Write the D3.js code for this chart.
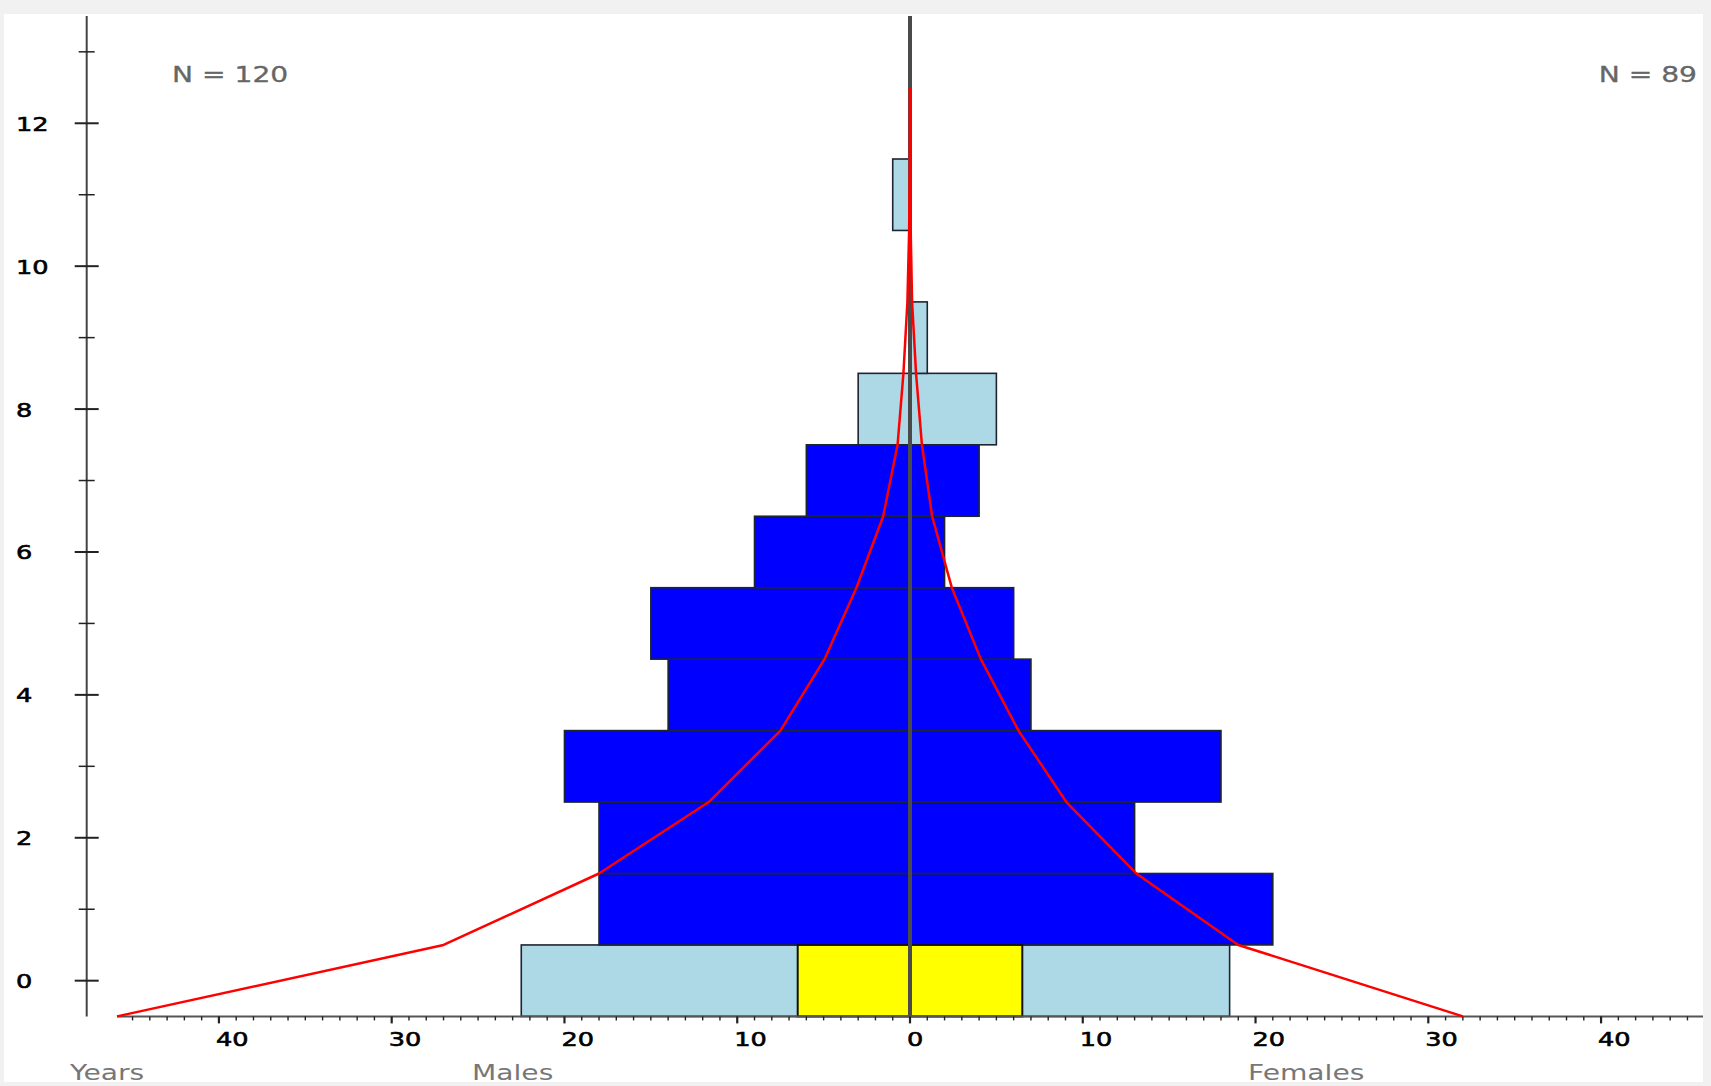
<!DOCTYPE html>
<html>
<head>
<meta charset="utf-8">
<script src="https://cdn.jsdelivr.net/npm/d3@7"></script>
<style>
  html, body { margin: 0; padding: 0; background: #f1f1f1; }
  svg { display: block; }
</style>
</head>
<body>
<svg id="chart" width="1711" height="1086"></svg>
<script>
// ---- data ----
const ages = [0, 1, 2, 3, 4, 5, 6, 7, 8, 9, 10, 11];
const males = [22.5, 18, 18, 20, 14, 15, 9, 6, 3, 0, 0, 1];
const females = [18.5, 21, 13, 18, 7, 6, 2, 4, 5, 1, 0, 0];
const malesYellow = [6.5, 0, 0, 0, 0, 0, 0, 0, 0, 0, 0, 0];
const femalesYellow = [6.5, 0, 0, 0, 0, 0, 0, 0, 0, 0, 0, 0];
const barClass = ["light", "dark", "dark", "dark", "dark", "dark", "dark", "dark", "light", "light", "light", "light"];
const lineYears = [-0.5, 0.5, 1.5, 2.5, 3.5, 4.5, 5.5, 6.5, 7.5, 8.5, 9.5, 10.5, 11.5, 12.5];
const maleLine = [45.9, 27.0, 18.0, 11.65, 7.5, 4.95, 3.1, 1.55, 0.72, 0.38, 0.15, 0.05, 0.01, 0];
const femaleLine = [32.0, 19.0, 13.1, 9.05, 6.28, 4.1, 2.42, 1.28, 0.69, 0.35, 0.12, 0.04, 0.01, 0];
const yTickLabels = [0, 2, 4, 6, 8, 10, 12];
const xTickLabels = [-40, -30, -20, -10, 0, 10, 20, 30, 40];
const nMales = "N = 120";
const nFemales = "N = 89";
const axisTitles = ["Years", "Males", "Females"];

// ---- layout ----
const svg = d3.select("#chart");
const FONT = "'DejaVu Sans', Verdana, sans-serif";
const SX = 1.28;

svg.append("rect").attr("x", 4).attr("y", 14).attr("width", 1699).attr("height", 1068).attr("fill", "#ffffff");

const x = d3.scaleLinear().domain([-45.9, 45.9]).range([117, 1703]);
const y = d3.scaleLinear().domain([-0.5, 13.5]).range([1016.4, 16.1]);
const fill = { light: "#add8e6", dark: "#0000ff" };

function txt(g, s, tx, ty, opts) {
  const t = g.append("text")
    .attr("transform", `translate(${tx},${ty}) scale(${SX},1)`)
    .attr("font-family", FONT)
    .attr("font-size", opts.size)
    .attr("fill", opts.fill)
    .attr("text-anchor", opts.anchor || "start")
    .text(s);
  if (opts.stroke) t.attr("stroke", opts.fill).attr("stroke-width", opts.stroke);
  return t;
}

// bars
const rows = ages.map((a, i) => ({ age: a, m: males[i], f: females[i], my: malesYellow[i], fy: femalesYellow[i], c: barClass[i] }));
const gBars = svg.append("g");
rows.filter(d => d.m > 0).forEach(d => {
  gBars.append("rect")
    .attr("x", x(-d.m)).attr("y", y(d.age + 0.5))
    .attr("width", x(0) - x(-d.m)).attr("height", y(d.age - 0.5) - y(d.age + 0.5))
    .attr("fill", fill[d.c]).attr("stroke", "#1e2430").attr("stroke-width", 1.6);
});
rows.filter(d => d.f > 0).forEach(d => {
  gBars.append("rect")
    .attr("x", x(0)).attr("y", y(d.age + 0.5))
    .attr("width", x(d.f) - x(0)).attr("height", y(d.age - 0.5) - y(d.age + 0.5))
    .attr("fill", fill[d.c]).attr("stroke", "#1e2430").attr("stroke-width", 1.6);
});
rows.filter(d => d.my > 0).forEach(d => {
  gBars.append("rect")
    .attr("x", x(-d.my)).attr("y", y(d.age + 0.5))
    .attr("width", x(0) - x(-d.my)).attr("height", y(d.age - 0.5) - y(d.age + 0.5))
    .attr("fill", "#ffff00").attr("stroke", "#111").attr("stroke-width", 2);
});
rows.filter(d => d.fy > 0).forEach(d => {
  gBars.append("rect")
    .attr("x", x(0)).attr("y", y(d.age + 0.5))
    .attr("width", x(d.fy) - x(0)).attr("height", y(d.age - 0.5) - y(d.age + 0.5))
    .attr("fill", "#ffff00").attr("stroke", "#111").attr("stroke-width", 2);
});

// center line
svg.append("line")
  .attr("x1", x(0)).attr("x2", x(0))
  .attr("y1", y(13.5)).attr("y2", y(-0.5))
  .attr("stroke", "#4a4a4a").attr("stroke-width", 4);

// vertical axis
const axX = 86.7;
const gY = svg.append("g");
gY.append("line").attr("x1", axX).attr("x2", axX).attr("y1", y(13.5)).attr("y2", y(-0.5))
  .attr("stroke", "#444").attr("stroke-width", 2);
d3.range(0, 14).forEach(v => {
  const major = v % 2 === 0;
  const h = major ? 12 : 8;
  gY.append("line").attr("x1", axX - h).attr("x2", axX + h).attr("y1", y(v)).attr("y2", y(v))
    .attr("stroke", "#222").attr("stroke-width", major ? 2 : 1.5);
});
yTickLabels.forEach(v => {
  txt(gY, String(v), 16, y(v) + 7.5, { size: 20, fill: "#000", stroke: 0.6 });
});

// horizontal axis
const axY = y(-0.5);
const gX = svg.append("g");
gX.append("line").attr("x1", x(-45.9)).attr("x2", x(45.9)).attr("y1", axY).attr("y2", axY)
  .attr("stroke", "#555").attr("stroke-width", 2);
d3.range(-45, 46).forEach(v => {
  const major = v % 10 === 0;
  gX.append("line").attr("x1", x(v)).attr("x2", x(v)).attr("y1", axY).attr("y2", axY + (major ? 7 : 4))
    .attr("stroke", "#222").attr("stroke-width", major ? 2.2 : 1.4);
});
xTickLabels.forEach(v => {
  txt(gX, String(Math.abs(v)), x(v) - 3, 1046, { size: 20, fill: "#000", stroke: 0.6 });
});

// red lines
const line = d3.line().x(d => x(d[0])).y(d => y(d[1]));
svg.append("path")
  .attr("d", line(lineYears.map((yr, i) => [-maleLine[i], yr])))
  .attr("fill", "none").attr("stroke", "#ff0000").attr("stroke-width", 2.5).attr("stroke-linejoin", "round");
svg.append("path")
  .attr("d", line(lineYears.map((yr, i) => [femaleLine[i], yr])))
  .attr("fill", "none").attr("stroke", "#ff0000").attr("stroke-width", 2.5).attr("stroke-linejoin", "round");

// texts
txt(svg, nMales, 172, 81.5, { size: 22, fill: "#666", stroke: 0.3 });
txt(svg, nFemales, 1697, 81.5, { size: 22, fill: "#666", anchor: "end", stroke: 0.3 });
txt(svg, axisTitles[0], 70, 1080, { size: 22, fill: "#777" });
txt(svg, axisTitles[1], 472, 1080, { size: 22, fill: "#777" });
txt(svg, axisTitles[2], 1248, 1080, { size: 22, fill: "#777" });
</script>
</body>
</html>
